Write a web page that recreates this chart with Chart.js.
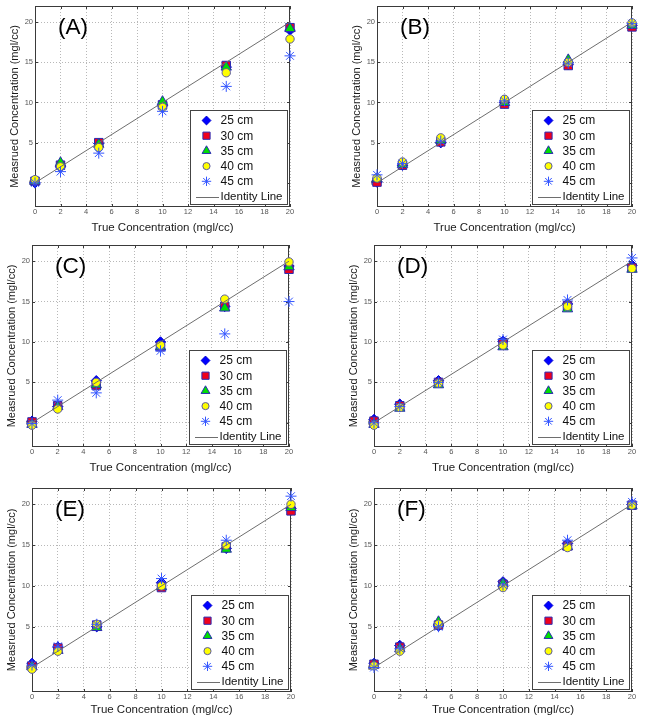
<!DOCTYPE html>
<html>
<head>
<meta charset="utf-8">
<script src="https://cdn.jsdelivr.net/npm/chart.js@4.4.1/dist/chart.umd.min.js"></script>
<style>
  html, body { margin: 0; padding: 0; background: #fff; overflow: hidden; }
  body { width: 645px; height: 724px; position: relative; }
  .panel { position: absolute; }
</style>
</head>
<body>
<script>
/* Six calibration panels — measured vs true concentration */
const trueConc = [0, 2, 5, 10, 15, 20];
const xTicks = [0, 2, 4, 6, 8, 10, 12, 14, 16, 18, 20];
const yTicks = [0, 5, 10, 15, 20];
const identityX = [0, 20];
const seriesLabels = ['25 cm', '30 cm', '35 cm', '40 cm', '45 cm'];

// one row per depth, one value per true concentration
const measuredA = [
  [0.0, 2.0, 4.9, 9.6, 14.4, 19.0],
  [0.2, 2.2, 5.0, 9.7, 14.6, 19.3],
  [0.2, 2.5, 4.8, 10.1, 14.4, 19.2],
  [0.4, 2.0, 4.4, 9.4, 13.7, 17.9],
  [0.0, 1.4, 3.7, 8.9, 12.0, 15.8],
];
const measuredB = [
  [0.1, 2.2, 5.0, 10.0, 14.7, 19.6],
  [0.1, 2.2, 5.1, 9.8, 14.6, 19.4],
  [0.5, 2.3, 5.3, 10.0, 15.3, 19.6],
  [0.6, 2.6, 5.6, 10.4, 15.0, 19.9],
  [1.0, 2.4, 5.2, 10.2, 14.9, 19.8],
];
const measuredC = [
  [0.2, 2.0, 5.2, 10.0, 14.4, 19.4],
  [0.1, 2.1, 4.6, 9.4, 14.4, 19.0],
  [-0.2, 2.0, 4.7, 9.4, 14.2, 19.3],
  [-0.3, 1.7, 5.0, 9.6, 15.3, 19.9],
  [-0.1, 2.8, 3.7, 8.9, 11.0, 15.0],
];
const measuredD = [
  [0.4, 2.3, 5.2, 10.1, 14.7, 19.5],
  [0.2, 2.1, 5.0, 9.9, 14.5, 19.2],
  [-0.2, 1.8, 4.7, 9.4, 14.1, 19.0],
  [-0.3, 1.9, 4.9, 9.6, 14.4, 19.1],
  [0.0, 2.0, 5.0, 10.3, 15.2, 20.4],
];
const measuredE = [
  [0.5, 2.5, 5.0, 10.4, 14.6, 19.5],
  [0.2, 2.4, 5.2, 9.8, 14.8, 19.2],
  [0.1, 2.1, 4.9, 9.9, 14.5, 19.6],
  [-0.2, 2.0, 5.3, 10.0, 15.0, 20.0],
  [0.3, 2.6, 5.3, 10.9, 15.6, 21.0],
];
const measuredF = [
  [0.5, 2.7, 5.1, 10.5, 15.2, 20.0],
  [0.4, 2.5, 5.2, 10.2, 14.9, 19.9],
  [0.3, 2.3, 5.6, 10.3, 14.8, 19.8],
  [0.2, 2.0, 5.3, 9.8, 14.7, 19.9],
  [0.0, 2.3, 5.0, 10.1, 15.6, 20.3],
];

// plot-area rectangles on the page
const panels = [
  { label: '(A)', data: measuredA, left: 35, top: 6, right: 290, bottom: 207, xTitle: 20.5 },
  { label: '(B)', data: measuredB, left: 377, top: 6, right: 632, bottom: 207, xTitle: 20.5 },
  { label: '(C)', data: measuredC, left: 32, top: 245, right: 289, bottom: 447, xTitle: 20.5 },
  { label: '(D)', data: measuredD, left: 374, top: 245, right: 632, bottom: 447, xTitle: 20.5 },
  { label: '(E)', data: measuredE, left: 32, top: 488, right: 291, bottom: 692, xTitle: 18 },
  { label: '(F)', data: measuredF, left: 374, top: 488, right: 632, bottom: 692, xTitle: 18 },
];

const AXIS_W = 35, AXIS_H = 30, PAD_T = 8, PAD_R = 12;
const edge = '#2a2ab4';
const markers = [
  { pointStyle: 'rectRot', pointRadius: 5.2, backgroundColor: '#0000ff', borderColor: '#0000d0', borderWidth: 1 },
  { pointStyle: 'rect', pointRadius: 6, backgroundColor: '#f0001c', borderColor: edge, borderWidth: 1 },
  { pointStyle: 'triangle', pointRadius: 6, backgroundColor: '#00e000', borderColor: edge, borderWidth: 1 },
  { pointStyle: 'circle', pointRadius: 4.2, backgroundColor: '#ffff00', borderColor: '#5a5aa0', borderWidth: 1 },
  { pointStyle: 'star', pointRadius: 5.5, backgroundColor: '#3355ff', borderColor: '#3355ff', borderWidth: 1 },
];

Chart.defaults.font.family = "'Liberation Sans', Arial, sans-serif";

// ── box, inward ticks ──────────────────────────────────────────
const frame = {
  id: 'frame',
  beforeDatasetsDraw(chart) {
    const { ctx, chartArea: a, scales } = chart;
    ctx.save();
    ctx.strokeStyle = '#3a3a3a';
    ctx.lineWidth = 1;
    ctx.strokeRect(a.left + 0.5, a.top + 0.5, a.right - a.left - 1, a.bottom - a.top - 1);
    ctx.beginPath();
    xTicks.forEach(v => {
      const px = Math.round(scales.x.getPixelForValue(v)) + 0.5;
      ctx.moveTo(px, a.bottom); ctx.lineTo(px, a.bottom - 3);
      ctx.moveTo(px, a.top); ctx.lineTo(px, a.top + 3);
    });
    yTicks.forEach(v => {
      const py = Math.round(scales.y.getPixelForValue(v)) + 0.5;
      ctx.moveTo(a.left, py); ctx.lineTo(a.left + 3, py);
      ctx.moveTo(a.right, py); ctx.lineTo(a.right - 3, py);
    });
    ctx.stroke();
    ctx.restore();
  },
};

// ── legend box inside lower right ──────────────────────────────
const boxLegend = {
  id: 'boxLegend',
  afterDraw(chart) {
    const { ctx, chartArea: a } = chart;
    const w = 97, h = 94;
    const x0 = Math.round(a.right - 3 - w), y0 = Math.round(a.bottom - 3 - h);
    ctx.save();
    ctx.fillStyle = '#fff';
    ctx.fillRect(x0, y0, w, h);
    ctx.strokeStyle = '#444';
    ctx.lineWidth = 1;
    ctx.strokeRect(x0 + 0.5, y0 + 0.5, w, h);
    ctx.font = "12px 'Liberation Sans', Arial, sans-serif";
    ctx.textBaseline = 'middle';
    chart.data.datasets.forEach((ds, i) => {
      const y = y0 + 10.5 + i * 15.2;
      if (ds.showLine) {
        ctx.strokeStyle = ds.borderColor;
        ctx.beginPath();
        ctx.moveTo(x0 + 6, Math.round(y) + 0.5);
        ctx.lineTo(x0 + 29, Math.round(y) + 0.5);
        ctx.stroke();
        ctx.font = "11.5px 'Liberation Sans', Arial, sans-serif";
      } else {
        ctx.fillStyle = ds.backgroundColor;
        ctx.strokeStyle = ds.borderColor;
        ctx.lineWidth = ds.borderWidth;
        Chart.helpers.drawPoint(ctx, { pointStyle: ds.pointStyle, radius: ds.pointRadius * 0.85, borderWidth: ds.borderWidth, rotation: 0 }, x0 + 16.5, y);
      }
      ctx.fillStyle = '#111';
      ctx.fillText(ds.label, x0 + 30.5, y + 0.5);
    });
    ctx.restore();
  },
};

// ── panel letter ───────────────────────────────────────────────
const panelLabel = {
  id: 'panelLabel',
  afterDraw(chart, args, opts) {
    const { ctx, chartArea: a } = chart;
    ctx.save();
    ctx.font = "22.5px 'Liberation Sans', Arial, sans-serif";
    ctx.fillStyle = '#000';
    ctx.textBaseline = 'alphabetic';
    ctx.fillText(opts.text, a.left + 23, a.top + 28);
    ctx.restore();
  },
};

function makePanel(p) {
  const plotW = p.right - p.left, plotH = p.bottom - p.top;
  const box = document.createElement('div');
  box.className = 'panel';
  box.style.left = (p.left - AXIS_W) + 'px';
  box.style.top = (p.top - PAD_T) + 'px';
  box.style.width = (AXIS_W + plotW + PAD_R) + 'px';
  box.style.height = (PAD_T + plotH + AXIS_H) + 'px';
  const cv = document.createElement('canvas');
  box.appendChild(cv);
  document.body.appendChild(box);

  const datasets = seriesLabels.map((lab, i) => ({
    label: lab,
    data: trueConc.map((x, j) => ({ x, y: p.data[i][j] })),
    ...markers[i],
    showLine: false,
    clip: false,
    order: 5 - i,
  }));
  datasets.push({
    label: 'Identity Line',
    data: identityX.map(v => ({ x: v, y: v })),
    showLine: true,
    borderColor: '#6e6e6e',
    borderWidth: 1,
    pointRadius: 0,
    order: 0,
  });

  const gridCommon = { color: '#b8b8b8', lineWidth: 1, drawTicks: false };
  const tickFont = { size: 7.5 };

  new Chart(cv, {
    type: 'scatter',
    data: { datasets },
    plugins: [frame, boxLegend, panelLabel],
    options: {
      responsive: true,
      maintainAspectRatio: false,
      animation: false,
      events: [],
      layout: { padding: { top: PAD_T, right: PAD_R, left: 0, bottom: 0 } },
      plugins: {
        legend: { display: false },
        tooltip: { enabled: false },
        panelLabel: { text: p.label },
      },
      scales: {
        x: {
          type: 'linear', min: 0, max: 20,
          afterBuildTicks: s => { s.ticks = xTicks.map(v => ({ value: v })); },
          afterFit: s => { s.height = AXIS_H; },
          grid: gridCommon,
          border: { display: false, dash: [1, 2] },
          ticks: { font: tickFont, color: '#555', padding: 0, maxRotation: 0, autoSkip: false },
          title: {
            display: true, text: 'True Concentration (mgl/cc)', color: '#1a1a1a',
            font: { size: 11.5 }, padding: { top: 0, bottom: AXIS_H - p.xTitle - 6.9 },
          },
        },
        y: {
          type: 'linear', min: -3, max: 22,
          afterBuildTicks: s => { s.ticks = yTicks.map(v => ({ value: v })); },
          afterFit: s => { s.width = AXIS_W; },
          grid: gridCommon,
          border: { display: false, dash: [1, 2] },
          ticks: { font: tickFont, color: '#555', padding: 2, autoSkip: false },
          title: {
            display: true, text: 'Measrued Concentration (mgl/cc)', color: '#1a1a1a',
            font: { size: 11 }, padding: { top: AXIS_W - 20 - 6.6, bottom: 0 },
          },
        },
      },
    },
  });
}

panels.forEach(makePanel);
</script>
</body>
</html>
